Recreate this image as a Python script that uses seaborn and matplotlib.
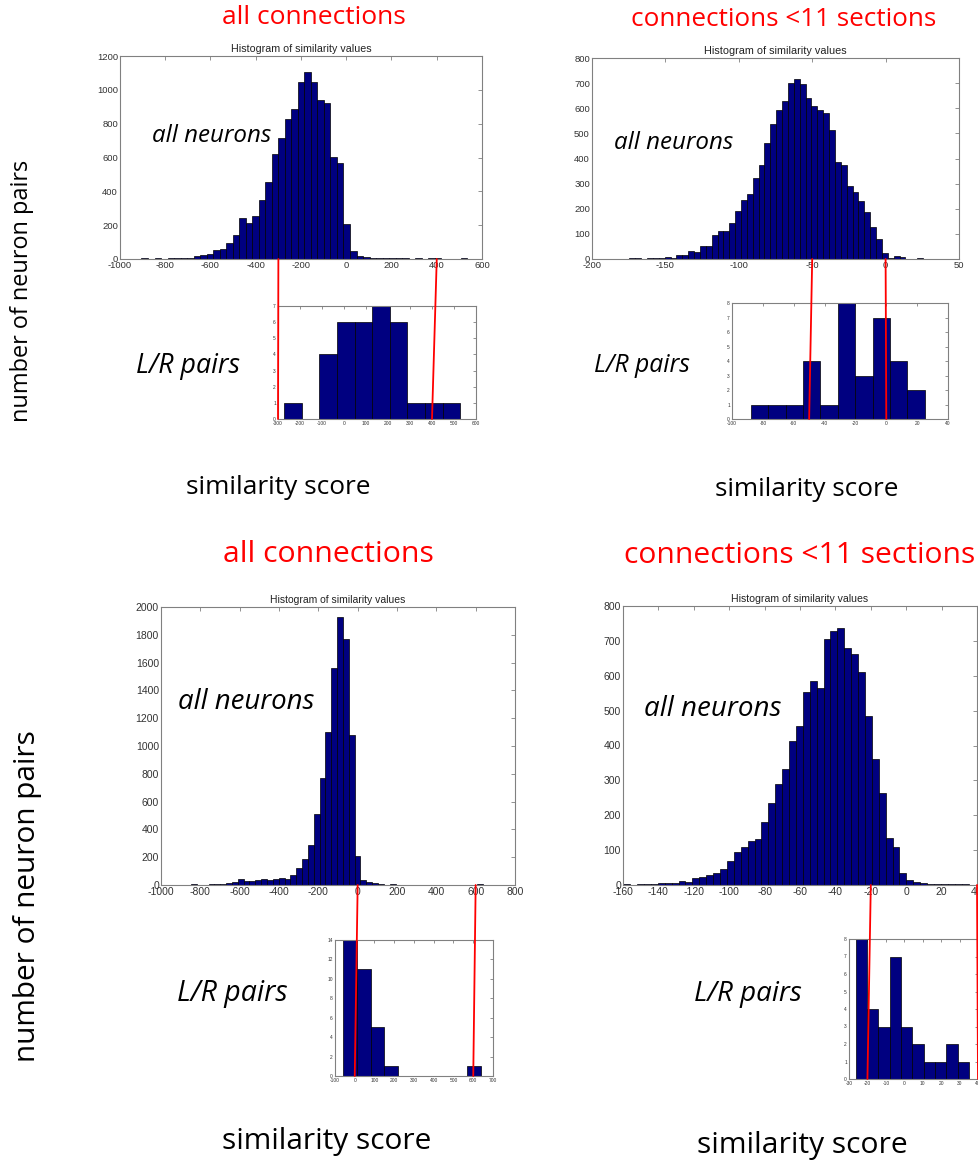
import numpy as np
import pandas as pd
import matplotlib
matplotlib.use("Agg")
import matplotlib.pyplot as plt
import seaborn as sns
from matplotlib.patches import ConnectionPatch

# ---------------- data (counts per equal-width bin) ----------------
# top-left: all connections, all neurons
tl_range = (-905, 535)
tl_counts = [5, 2, 3, 2, 3, 5, 5, 8, 15, 22, 30, 55, 60, 95, 140, 240, 210, 255, 350, 455,
             620, 715, 825, 885, 1045, 1105, 1045, 940, 925, 605, 565, 205, 50, 15, 10, 8, 5, 3, 6, 5,
             3, 2, 3, 2, 4, 3, 2, 1, 2, 3]
# top-right: connections <11 sections, all neurons
tr_range = (-174.5, 25.5)
tr_counts = [2, 2, 0, 2, 5, 2, 8, 5, 15, 15, 33, 28, 50, 50, 95, 113, 113, 143, 193, 235,
             257, 323, 373, 462, 538, 593, 630, 700, 715, 697, 640, 607, 593, 580, 515, 385, 373, 290, 268, 232,
             188, 127, 80, 22, 5, 10, 7, 0, 0, 3]
# bottom-left: all connections, all neurons
bl_range = (-847, 638)
bl_counts = [5, 3, 2, 4, 5, 10, 15, 20, 45, 28, 28, 33, 42, 38, 43, 48, 42,
             72, 120, 185, 288, 508, 767, 1098, 1559, 1925, 1770, 1077, 209,
             36, 24, 12, 7, 3, 5, 1, 1, 1, 0, 1, 0, 1, 0, 0, 1, 0, 1, 1, 2, 7]
# bottom-right: connections <11 sections, all neurons
br_range = (-159.8, 35.2)
br_counts = [2, 0, 2, 2, 3, 5, 6, 6, 12, 9, 20, 24, 28, 33, 45,
             70, 94, 110, 126, 131, 180, 236, 290, 332, 413,
             456, 552, 586, 566, 705, 729, 736, 679, 662, 612, 485, 361, 265, 134, 110,
             33, 14, 10, 5, 4, 4, 4, 2, 3, 2]

# L/R pair insets
tli_range = (-272, 528)
tli_counts = [1, 0, 4, 6, 6, 7, 6, 1, 1, 1]
tri_range = (-87.7, 24.9)
tri_counts = [1, 1, 1, 4, 1, 8, 3, 7, 4, 2]
bli_range = (-58, 637)
bli_counts = [14, 11, 5, 1, 0, 0, 0, 0, 0, 1]
bri_range = (-26.4, 35.1)
bri_counts = [8, 4, 3, 7, 3, 2, 1, 1, 2, 1]

# axis ticks
tl_xticks = list(range(-1000, 601, 200)); tl_yticks = list(range(0, 1201, 200))
tr_xticks = list(range(-200, 51, 50));    tr_yticks = list(range(0, 801, 100))
bl_xticks = list(range(-1000, 801, 200)); bl_yticks = list(range(0, 2001, 200))
br_xticks = list(range(-160, 41, 20));    br_yticks = list(range(0, 801, 100))
tli_xticks = list(range(-300, 601, 100)); tli_yticks = list(range(0, 8))
tri_xticks = list(range(-100, 41, 20));   tri_yticks = list(range(0, 9))
bli_xticks = list(range(-100, 701, 100)); bli_yticks = list(range(0, 15, 2))
bri_xticks = list(range(-30, 41, 10));    bri_yticks = list(range(0, 9))

# red guide lines: (main x, inset x)
tl_marks = [(-300, -300), (400, 400)]
tr_marks = [(-50, -50), (0, 0)]
bl_marks = [(0, 0), (600, 600)]
br_marks = [(-20, -20), (40, 40)]

title_txt = "Histogram of similarity values"

# ---------------- style ----------------
sns.set_style("white")
plt.rcParams['font.family'] = ['Liberation Sans', 'DejaVu Sans']
plt.rcParams['axes.unicode_minus'] = False
NAVY = '#000080'
SPINE = '#808080'
LABEL = '#333333'

W, H = 979, 1164
fig = plt.figure(figsize=(W / 100, H / 100), dpi=100)
renderer = fig.canvas.get_renderer()


def box(l, r, t, b):
    return [l / W, 1 - b / H, (r - l) / W, (b - t) / H]


def fit(txt, target, vertical=False):
    fs = txt.get_fontsize()
    bb = txt.get_window_extent(renderer=renderer)
    cur = bb.height if vertical else bb.width
    txt.set_fontsize(fs * target / cur)


def hist(ax, rng, counts, xlim, ylim, xticks, yticks, labsize, ticklen=3):
    edges = np.linspace(rng[0], rng[1], len(counts) + 1)
    df = pd.DataFrame({'score': (edges[:-1] + edges[1:]) / 2,
                       'n': np.asarray(counts, dtype=float)})
    sns.histplot(data=df, x='score', weights='n', bins=list(edges), ax=ax, color=NAVY,
                 edgecolor='black', linewidth=0.5, alpha=1.0)
    ax.set_xlim(*xlim)
    ax.set_ylim(*ylim)
    ax.set_xticks(xticks)
    ax.set_yticks(yticks)
    ax.set_xlabel('')
    ax.set_ylabel('')
    ax.tick_params(direction='in', top=True, right=True, length=ticklen, width=0.6,
                   color=SPINE, labelcolor=LABEL, labelsize=labsize, pad=1.5)
    for s in ax.spines.values():
        s.set_color(SPINE)
        s.set_linewidth(0.8)
        s.set_visible(True)
    ax.grid(False)


ax_tl = fig.add_axes(box(120, 482, 56, 259))
ax_tr = fig.add_axes(box(592, 959, 58, 259))
ax_bl = fig.add_axes(box(161, 515, 607, 885))
ax_br = fig.add_axes(box(623, 977, 606, 885))
in_tl = fig.add_axes(box(278, 476, 306, 419))
in_tr = fig.add_axes(box(732, 948, 303, 419))
in_bl = fig.add_axes(box(335, 493, 940, 1076))
in_br = fig.add_axes(box(849, 978, 939, 1079))

hist(ax_tl, tl_range, tl_counts, (-1000, 600), (0, 1200), tl_xticks, tl_yticks, 6.8)
hist(ax_tr, tr_range, tr_counts, (-200, 50), (0, 800), tr_xticks, tr_yticks, 6.8)
hist(ax_bl, bl_range, bl_counts, (-1000, 800), (0, 2000), bl_xticks, bl_yticks, 7.5)
hist(ax_br, br_range, br_counts, (-160, 40), (0, 800), br_xticks, br_yticks, 7.5)
hist(in_tl, tli_range, tli_counts, (-300, 600), (0, 7), tli_xticks, tli_yticks, 3.5, 2)
hist(in_tr, tri_range, tri_counts, (-100, 40), (0, 8), tri_xticks, tri_yticks, 3.5, 2)
hist(in_bl, bli_range, bli_counts, (-100, 700), (0, 14), bli_xticks, bli_yticks, 3.5, 2)
hist(in_br, bri_range, bri_counts, (-30, 40), (0, 8), bri_xticks, bri_yticks, 3.5, 2)

# small MATLAB titles
for ax, w in [(ax_tl, 138), (ax_tr, 142), (ax_bl, 136), (ax_br, 137)]:
    t = ax.set_title(title_txt, fontsize=7, pad=3, color='#222222')
    fit(t, w)

# red guide lines
for main, inset, marks in [(ax_tl, in_tl, tl_marks), (ax_tr, in_tr, tr_marks),
                           (ax_bl, in_bl, bl_marks), (ax_br, in_br, br_marks)]:
    for xm, xi in marks:
        cp = ConnectionPatch(xyA=(xm, 0), coordsA=main.transData,
                             xyB=(xi, 0), coordsB=inset.transData,
                             color='red', linewidth=1.3, zorder=10)
        fig.add_artist(cp)

# annotation texts (figure pixel coordinates)
CAL = ['Open Sans', 'DejaVu Sans']


def ftext(cx, cy, s, target, vertical=False, **kw):
    t = fig.text(cx / W, 1 - cy / H, s, ha='center', va='center',
                 rotation=90 if vertical else 0, fontsize=16, family=CAL, **kw)
    fit(t, target, vertical)
    return t


ftext(314, 18, "all connections", 184, color='red')
ftext(784, 19, "connections <11 sections", 306, color='red')
ftext(328, 554, "all connections", 211, color='red')
ftext(800, 555, "connections <11 sections", 351, color='red')

ftext(22, 291, "number of neuron pairs", 262, vertical=True, color='black')
ftext(28, 896, "number of neuron pairs", 332, vertical=True, color='black')

ftext(278, 487, "similarity score", 185, color='black')
ftext(807, 489, "similarity score", 184, color='black')
ftext(327, 1141, "similarity score", 210, color='black')
ftext(802, 1145, "similarity score", 211, color='black')

ftext(212, 136, "all neurons", 120, style='italic', color='black')
ftext(674, 143, "all neurons", 120, style='italic', color='black')
ftext(246, 702, "all neurons", 137, style='italic', color='black')
ftext(713, 709, "all neurons", 138, style='italic', color='black')

ftext(188, 366, "L/R pairs", 104, style='italic', color='black')
ftext(642, 365, "L/R pairs", 96, style='italic', color='black')
ftext(232, 994, "L/R pairs", 111, style='italic', color='black')
ftext(748, 994, "L/R pairs", 108, style='italic', color='black')

fig.savefig("out.png", dpi=100, facecolor='white')
